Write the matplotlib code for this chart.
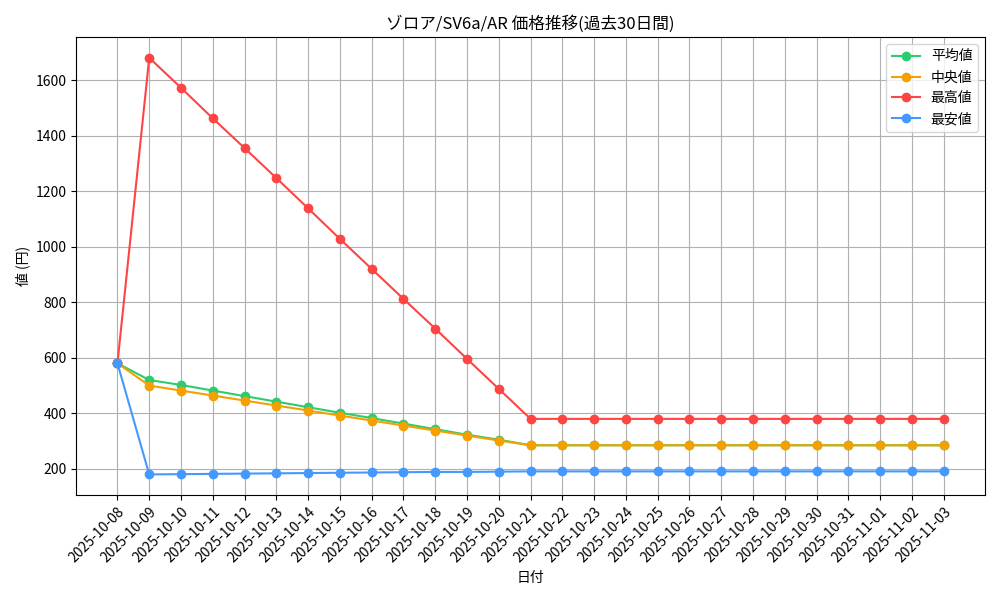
import matplotlib
matplotlib.use("Agg")
import matplotlib.pyplot as plt
import pandas as pd

plt.rcParams['font.family'] = ['Noto Sans CJK JP', 'DejaVu Sans']

dates = [d.strftime('%Y-%m-%d') for d in pd.date_range('2025-10-08', '2025-11-03')]
avg = [580, 520, 502, 482, 462, 442, 422, 402, 383, 363, 343, 323, 305, 285] + [285]*13
med = [580, 500, 482, 464, 446, 428, 410, 392, 374, 356, 338, 320, 302, 285] + [285]*13
high = [580, 1680, 1572, 1462, 1355, 1247, 1138, 1028, 920, 812, 705, 596, 488, 380] + [380]*13
low = [580, 180, 181, 182, 183, 184, 185, 186, 187, 188, 189, 189, 190, 191] + [191]*13

fig, ax = plt.subplots(figsize=(10, 6), dpi=100)
x = range(len(dates))
ax.plot(x, avg, '-o', color='#2ecc71', label='平均値')
ax.plot(x, med, '-o', color='#f5a000', label='中央値')
ax.plot(x, high, '-o', color='#ff4444', label='最高値')
ax.plot(x, low, '-o', color='#4499ff', label='最安値')
ax.set_xticks(list(x))
ax.set_xticklabels(dates, rotation=45, ha='right', rotation_mode='anchor')
ax.set_title('ゾロア/SV6a/AR 価格推移(過去30日間)')
ax.set_xlabel('日付')
ax.set_ylabel('値 (円)')
ax.grid(True, color='#b0b0b0')
ax.legend(loc='upper right')
fig.tight_layout()
fig.savefig('out.png')
